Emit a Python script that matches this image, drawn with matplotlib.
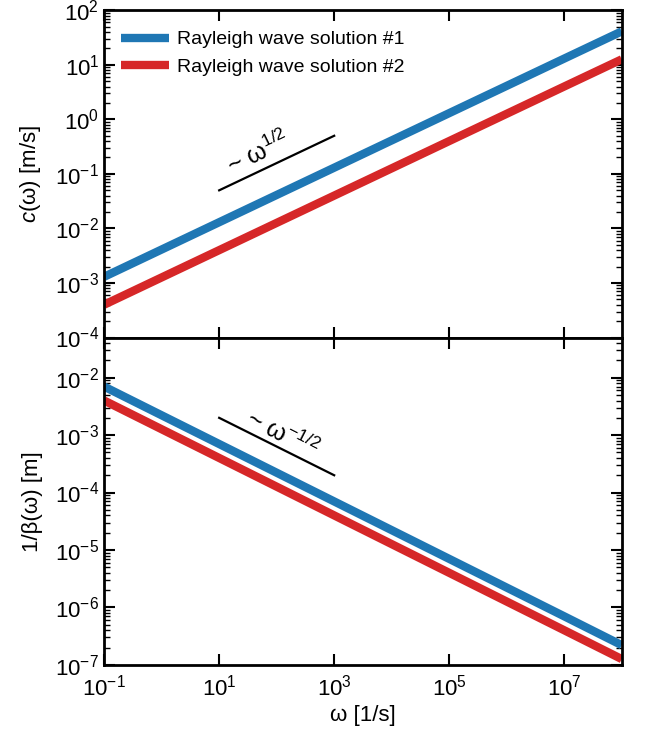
import matplotlib
matplotlib.use('Agg')
import matplotlib.pyplot as plt
from matplotlib.ticker import LogLocator, NullLocator, NullFormatter

plt.rcParams['font.family'] = ['Liberation Sans', 'DejaVu Sans']
plt.rcParams['mathtext.fontset'] = 'custom'
plt.rcParams['mathtext.rm'] = 'Liberation Sans'
plt.rcParams['mathtext.it'] = 'Liberation Sans:italic'
plt.rcParams['mathtext.bf'] = 'Liberation Sans:bold'

# frequency points
omega = [1e-1, 1e1, 1e3, 1e5, 1e7, 1e8]

# phase velocity c(omega) [m/s]
c_sol1 = [1.3e-3, 1.3e-2, 1.3e-1, 1.3, 13.0, 41.0]
c_sol2 = [4.0e-4, 4.0e-3, 4.0e-2, 0.4, 4.0, 12.6]

# decay length 1/beta(omega) [m]
b_sol1 = [7.0e-3, 7.0e-4, 7.0e-5, 7.0e-6, 7.0e-7, 2.2e-7]
b_sol2 = [4.0e-3, 4.0e-4, 4.0e-5, 4.0e-6, 4.0e-7, 1.26e-7]

# guide lines for the power laws
guide_x = [1e1, 1e3]
guide_c = [5e-2, 5e-1]
guide_b = [2e-3, 2e-4]

# tick positions
x_ticks = [1e-1, 1e1, 1e3, 1e5, 1e7]
c_ticks = [1e-4, 1e-3, 1e-2, 1e-1, 1e0, 1e1, 1e2]
b_ticks = [1e-7, 1e-6, 1e-5, 1e-4, 1e-3, 1e-2]

labels = ['Rayleigh wave solution #1', 'Rayleigh wave solution #2']
colors = ['#1f77b4', '#d62728']

fig, (ax1, ax2) = plt.subplots(2, 1, figsize=(6.51, 7.33), dpi=100, sharex=True)
fig.subplots_adjust(left=0.16, right=0.955, top=0.986, bottom=0.093, hspace=0)

ax1.plot(omega, c_sol1, color=colors[0], lw=6, label=labels[0], solid_capstyle='butt')
ax1.plot(omega, c_sol2, color=colors[1], lw=6, label=labels[1], solid_capstyle='butt')
ax1.plot(guide_x, guide_c, color='black', lw=1.6)
ax1.text(48, 0.24, '~ ω$^{1/2}$', rotation=26, fontsize=18,
         ha='center', va='center')

ax2.plot(omega, b_sol1, color=colors[0], lw=6, solid_capstyle='butt')
ax2.plot(omega, b_sol2, color=colors[1], lw=6, solid_capstyle='butt')
ax2.plot(guide_x, guide_b, color='black', lw=1.6)
ax2.text(125, 1.05e-3, '~ ω$^{-1/2}$', rotation=-27, fontsize=18,
         ha='center', va='center')

for ax, yt in ((ax1, c_ticks), (ax2, b_ticks)):
    ax.set_xscale('log')
    ax.set_yscale('log')
    ax.set_xlim(1e-1, 1e8)
    ax.set_xticks(x_ticks)
    ax.xaxis.set_minor_locator(NullLocator())
    ax.set_yticks(yt)
    ax.yaxis.set_minor_locator(LogLocator(base=10, subs=range(2, 10), numticks=20))
    ax.yaxis.set_minor_formatter(NullFormatter())
    ax.tick_params(which='both', direction='in', top=True, right=True, labelsize=16)
    ax.tick_params(which='major', length=8, width=1.5)
    ax.tick_params(which='minor', length=4, width=1.0)
    ax.tick_params(axis='x', pad=7)
    for s in ax.spines.values():
        s.set_linewidth(2)

ax1.set_ylim(1e-4, 1e2)
ax2.set_ylim(1e-7, 5e-2)

ax1.set_ylabel('$c$(ω) [m/s]', fontsize=16, labelpad=9)
ax2.set_ylabel('1/β(ω) [m]', fontsize=16, labelpad=9)
ax2.set_xlabel('ω [1/s]', fontsize=16, labelpad=3)

ax1.legend(loc='upper left', bbox_to_anchor=(0.0, 0.988), frameon=False,
           fontsize=14, handlelength=2.5, borderaxespad=0.45,
           labelspacing=0.5, handletextpad=0.4)

fig.savefig('out.png', dpi=100)
